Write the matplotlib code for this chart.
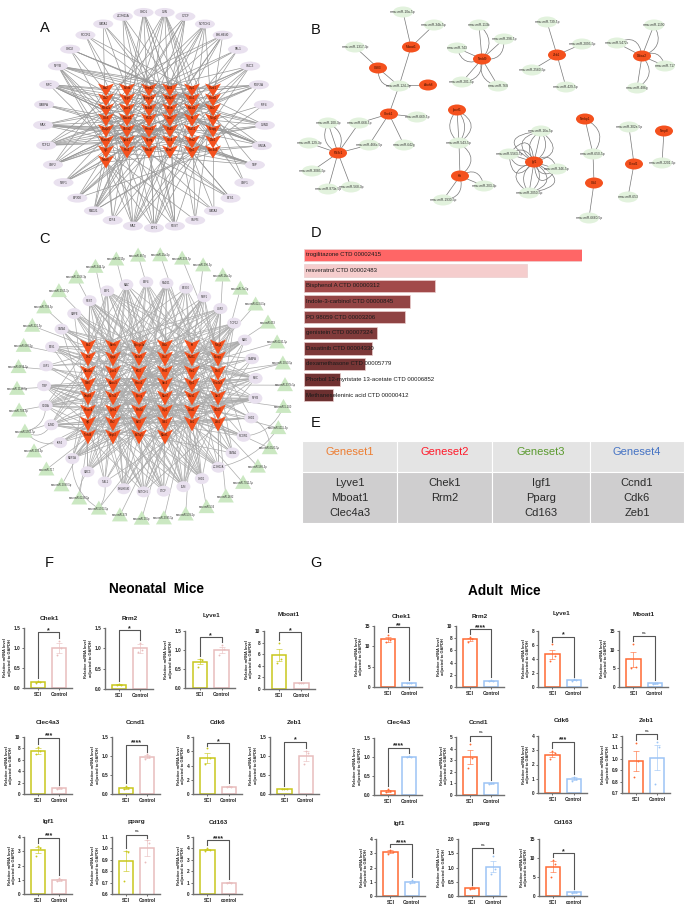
import numpy as np
import matplotlib
matplotlib.use('Agg')
from matplotlib import pyplot as plt
from matplotlib.patches import Ellipse, Rectangle, FancyArrowPatch

plt.rcParams['font.family'] = ['Liberation Sans', 'DejaVu Sans']

W, H = 685, 910

# ---------- network data ----------
TFS = ['JUN', 'CTCF', 'NOTCH1', 'BHLHE40', 'TAL1', 'SMC3', 'MEF2A', 'IRF4', 'JUND', 'SIN3A', 'TBP',
       'USF1', 'ETS1', 'GATA3', 'SMPE', 'REST', 'E2F1', 'MAZ', 'E2F4', 'RAD21', 'EP300', 'NRF1',
       'USF2', 'TCF12', 'MAX', 'GABPA', 'MYC', 'NFYB', 'CHD2', 'RCOR1', 'GATA1', 'ZC3H11A', 'CHD1']

GENES = ['Ets2', 'Dio2', 'Mfsd2a', 'Cdk6', 'Dnajb9', 'Rnase4', 'Igf1', 'Tnfsf8',
         'Ednrb', 'Hpgd', 'Lyve1', 'Mboat1', 'Slc7a2', 'Sphk1', 'Plin2', 'Cmpk2',
         'Ppargc1a', 'Nedd9', 'Kif20', 'Hmox1', 'Pparg', 'Rab3il', 'Edil3', 'Sh3bp5',
         'Ikbkb', 'Gas7', 'Rnd3', 'Sdc4', 'Mcm7', 'Usp1', 'Cdk1', 'Mical1',
         'Kit', 'Rad51', 'Rrm2', 'Rgs1', 'Chek1', 'Ccnd1', 'Ect2',
         'Ndrg2', 'Ncapg', 'Dtx4', 'Clec4a3', 'Cks2', 'Cd163', 'Zeb1']

TF_TARGETS = {
    'JUN': [2, 9, 17, 25, 33, 39, 41, 44, 12, 30],
    'CTCF': [1, 10, 18, 26, 6, 22],
    'NOTCH1': [3, 11, 19, 27, 34, 40, 14],
    'BHLHE40': [0, 8, 16, 24, 20, 29, 37],
    'TAL1': [2, 10, 26, 32],
    'SMC3': [4, 12, 21, 28, 35, 1, 17],
    'MEF2A': [5, 13, 22, 30, 36, 9, 25, 41],
    'IRF4': [39, 41, 43],
    'JUND': [6, 14, 23, 31, 37, 15, 2, 40, 44],
    'SIN3A': [7, 15, 0, 8, 16, 24, 32, 38, 33, 21],
    'TBP': [3, 11, 19, 27, 34, 42, 45, 13, 6, 29],
    'USF1': [45, 38, 31],
    'ETS1': [4, 20, 28, 35, 43, 16],
    'GATA3': [5, 21, 36, 44, 23],
    'SMPE': [6, 22, 37, 45, 31],
    'REST': [1, 9, 17, 25, 7, 15, 23, 38, 44],
    'E2F1': [2, 10, 18, 26, 33, 39, 7, 15, 31],
    'MAZ': [3, 11, 19, 27, 34, 40, 7, 23, 0, 31],
    'E2F4': [4, 12, 20, 28, 7],
    'RAD21': [5, 13, 21, 29, 35, 41, 7, 15, 14, 22],
    'EP300': [6, 14, 22, 30, 36, 42],
    'NRF1': [7, 15, 23, 31, 37, 43, 6],
    'USF2': [0, 8, 16, 24, 32, 38, 44, 12, 30, 37, 43],
    'TCF12': [1, 9, 17, 25, 33, 39, 45, 29, 37, 5, 20],
    'MAX': [2, 10, 18, 26, 34, 40, 4, 12, 44, 28],
    'GABPA': [3, 11, 27],
    'MYC': [0, 8, 16, 24, 32, 19, 27, 35, 41, 5, 42],
    'NFYB': [5, 13, 21, 29, 36, 42, 6, 14, 30, 43, 37, 23],
    'CHD2': [14, 22, 30, 38, 20],
    'RCOR1': [12, 20, 29, 40],
    'GATA1': [8, 24, 41, 6],
    'ZC3H11A': [10, 19, 28, 41, 26],
    'CHD1': [9, 18, 26, 35, 43, 31, 13, 22],
}
# extra links that only panel C shows
C_EXTRA = {
    'JUN': [5, 13, 21, 29, 37], 'CTCF': [4, 12, 28, 36], 'NOTCH1': [7, 15, 23, 31, 45], 'BHLHE40': [3, 11, 34, 42],
    'TAL1': [6, 14, 38], 'SMC3': [0, 8, 24, 41], 'MEF2A': [2, 18, 33], 'IRF4': [20, 32], 'JUND': [1, 9, 25, 35],
    'SIN3A': [4, 12, 28, 44], 'TBP': [5, 22, 37, 43], 'USF1': [8, 17, 40], 'ETS1': [2, 10, 25, 39],
    'GATA3': [1, 17, 33, 41], 'SMPE': [9, 26, 42], 'REST': [3, 19, 35, 42], 'E2F1': [0, 16, 24, 40],
    'MAZ': [6, 14, 30, 44], 'E2F4': [16, 32, 38, 45], 'RAD21': [9, 25, 36, 43], 'EP300': [1, 17, 33, 39],
    'NRF1': [2, 18, 26, 40], 'USF2': [4, 20, 35], 'TCF12': [13, 21, 41], 'MAX': [6, 22, 38], 'GABPA': [16, 31, 44],
    'MYC': [7, 15, 38, 45], 'NFYB': [2, 18, 33], 'CHD2': [0, 8, 26, 40], 'RCOR1': [5, 24, 37], 'GATA1': [1, 18, 32, 44],
    'ZC3H11A': [3, 11, 33, 39], 'CHD1': [0, 16, 24, 38],
}

MIRNAS = ['mmu-miR-6215p', 'mmu-miR-467g', 'mmu-miR-19a-5p', 'mmu-miR-338-5p', 'mmu-miR-298-5p',
          'mmu-miR-16a-5p', 'mmu-miR-7a-5p', 'mmu-miR-6224-5p', 'mmu-miR-653', 'mmu-miR-6231-5p',
          'mmu-miR-2050-5p', 'mmu-miR-337b-5p', 'mmu-miR-5-100', 'mmu-miR-5115-5p', 'mmu-miR-6923-5p',
          'mmu-miR-568-3p', 'mmu-miR-7011-5p', 'mmu-miR-1892', 'mmu-miR-534', 'mmu-miR-539-5p',
          'mmu-miR-3085-5p', 'mmu-miR-205p', 'mmu-miR-378', 'mmu-miR-5003-5p', 'mmu-miR-6238-5p',
          'mmu-miR-2080-5p', 'mmu-miR-717', 'mmu-miR-209-5p', 'mmu-miR-5563-5p', 'mmu-miR-708-5p',
          'mmu-miR-2138-5p', 'mmu-miR-6694-5p', 'mmu-miR-668-5p', 'mmu-miR-321-5p', 'mmu-miR-709-5p',
          'mmu-miR-2965-3p', 'mmu-miR-1306-3p', 'mmu-miR-344-5p']
MIR_TARGETS = [16, 24, 32, 39, 33, 40, 41, 39, 34, 40,
               41, 42, 43, 44, 45, 45, 38, 44, 38, 37,
               36, 31, 30, 30, 7, 7, 7, 6, 5, 4,
               3, 2, 1, 0, 0, 8, 8, 8]
# curved miRNA - TF arcs seen in the lower left of C
MIR_ARCS = [(28, 'SIN3A', 0.4), (28, 'JUND', 0.5), (28, 'IRF4', 0.3), (23, 'MEF2A', -0.3), (24, 'SMC3', -0.2),
            (23, 'TAL1', 0.2), (10, 'MEF2A', 0.1), (13, 'ZC3H11A', -0.2), (14, 'CHD2', 0.3), (12, 'RCOR1', -0.3)]

# panel B: name, kind
B_GENES = ['Mboat1', 'Cd83', 'Atoh8', 'Chek1', 'Pik3r1', 'Nedd9', 'Zeb1', 'Ddias2', 'Ipcef1', 'Kit', 'Igf1',
           'Nmbp1', 'Cd4', 'Ccnd1', 'Nmp8']
B_MIRS = ['mmu-miR-10a-5p', 'mmu-miR-34b-5p', 'mmu-miR-1317-3p', 'mmu-miR-124-3p', 'mmu-miR-669-5p', 'mmu-miR-642g',
          'mmu-miR-466c-5p', 'mmu-miR-668-5p', 'mmu-miR-100-3p', 'mmu-miR-129-3p', 'mmu-miR-3085-5p',
          'mmu-miR-873a-5p', 'mmu-miR-568-3p', 'mmu-miR-113b', 'mmu-miR-298-5p', 'mmu-miR-743', 'mmu-miR-76S',
          'mmu-miR-201-5p', 'mmu-miR-739-5p', 'mmu-miR-2095-5p', 'mmu-miR-2560-5p', 'mmu-miR-429-5p',
          'mmu-miR-1190', 'mmu-miR-5472c', 'mmu-miR-717', 'mmu-miR-486g', 'mmu-miR-543-5p', 'mmu-miR-203-3p',
          'mmu-miR-1930-5p', 'mmu-miR-16a-5p', 'mmu-miR-5563-5p', 'mmu-miR-346-5p', 'mmu-miR-2050-5p',
          'mmu-miR-650-5p', 'mmu-miR-6660-5p', 'mmu-miR-302a-5p', 'mmu-miR-653', 'mmu-miR-2201-5p']
B_EDGES = [('Mboat1', 'mmu-miR-10a-5p', 0), ('Mboat1', 'mmu-miR-34b-5p', 0), ('Mboat1', 'mmu-miR-124-3p', 0),
           ('Cd83', 'mmu-miR-1317-3p', 0), ('Cd83', 'mmu-miR-124-3p', 0), ('Cd83', 'mmu-miR-124-3p', 0.6),
           ('Atoh8', 'mmu-miR-124-3p', 0), ('Chek1', 'mmu-miR-124-3p', 0), ('Chek1', 'mmu-miR-669-5p', 0),
           ('Chek1', 'mmu-miR-642g', 0), ('Chek1', 'mmu-miR-466c-5p', 0), ('Chek1', 'mmu-miR-668-5p', 0),
           ('Pik3r1', 'mmu-miR-668-5p', 0), ('Pik3r1', 'mmu-miR-466c-5p', 0), ('Pik3r1', 'mmu-miR-100-3p', 0),
           ('Pik3r1', 'mmu-miR-100-3p', 0.5), ('Pik3r1', 'mmu-miR-100-3p', -0.5), ('Pik3r1', 'mmu-miR-129-3p', 0),
           ('Pik3r1', 'mmu-miR-3085-5p', 0), ('Pik3r1', 'mmu-miR-873a-5p', 0), ('Pik3r1', 'mmu-miR-568-3p', 0),
           ('Nedd9', 'mmu-miR-113b', 0), ('Nedd9', 'mmu-miR-113b', 0.5), ('Nedd9', 'mmu-miR-298-5p', 0),
           ('Nedd9', 'mmu-miR-298-5p', 0.6), ('Nedd9', 'mmu-miR-743', 0), ('Nedd9', 'mmu-miR-743', -0.6),
           ('Nedd9', 'mmu-miR-76S', 0), ('Nedd9', 'mmu-miR-76S', 0.5), ('Nedd9', 'mmu-miR-201-5p', 0),
           ('Nedd9', 'mmu-miR-201-5p', -0.5), ('Zeb1', 'mmu-miR-739-5p', 0), ('Zeb1', 'mmu-miR-2095-5p', 0),
           ('Zeb1', 'mmu-miR-2560-5p', 0), ('Zeb1', 'mmu-miR-429-5p', 0), ('Ddias2', 'mmu-miR-1190', 0),
           ('Ddias2', 'mmu-miR-1190', 0.6), ('Ddias2', 'mmu-miR-5472c', 0), ('Ddias2', 'mmu-miR-5472c', 0.7),
           ('Ddias2', 'mmu-miR-717', 0), ('Ddias2', 'mmu-miR-717', -0.6), ('Ddias2', 'mmu-miR-486g', 0),
           ('Ddias2', 'mmu-miR-486g', -0.6), ('Ipcef1', 'mmu-miR-543-5p', 0), ('Ipcef1', 'mmu-miR-543-5p', 0.5),
           ('Ipcef1', 'mmu-miR-543-5p', -0.4), ('Ipcef1', 'mmu-miR-543-5p', -0.8), ('Kit', 'mmu-miR-543-5p', 0),
           ('Kit', 'mmu-miR-543-5p', 0.7), ('Kit', 'mmu-miR-203-3p', 0), ('Kit', 'mmu-miR-203-3p', -0.7),
           ('Kit', 'mmu-miR-1930-5p', 0), ('Kit', 'mmu-miR-1930-5p', -0.6),
           ('Igf1', 'mmu-miR-16a-5p', 0), ('Igf1', 'mmu-miR-16a-5p', 0.5), ('Igf1', 'mmu-miR-16a-5p', -0.5),
           ('Igf1', 'mmu-miR-16a-5p', 1.0), ('Igf1', 'mmu-miR-16a-5p', -1.0), ('Igf1', 'mmu-miR-16a-5p', -1.5),
           ('Igf1', 'mmu-miR-5563-5p', 0), ('Igf1', 'mmu-miR-5563-5p', 0.6), ('Igf1', 'mmu-miR-5563-5p', -0.6),
           ('Igf1', 'mmu-miR-5563-5p', 1.2), ('Igf1', 'mmu-miR-5563-5p', -1.2), ('Igf1', 'mmu-miR-346-5p', 0),
           ('Igf1', 'mmu-miR-346-5p', 0.7), ('Igf1', 'mmu-miR-346-5p', -0.7), ('Igf1', 'mmu-miR-346-5p', 1.3),
           ('Igf1', 'mmu-miR-2050-5p', 0), ('Igf1', 'mmu-miR-2050-5p', 0.5), ('Igf1', 'mmu-miR-2050-5p', -0.5),
           ('Igf1', 'mmu-miR-2050-5p', 1.0), ('Igf1', 'mmu-miR-2050-5p', -1.0), ('Igf1', 'mmu-miR-2050-5p', -1.5),
           ('Nmbp1', 'mmu-miR-650-5p', 0), ('Nmbp1', 'mmu-miR-650-5p', -0.6), ('Cd4', 'mmu-miR-650-5p', 0),
           ('Cd4', 'mmu-miR-6660-5p', 0), ('Ccnd1', 'mmu-miR-302a-5p', 0), ('Ccnd1', 'mmu-miR-653', 0),
           ('Nmp8', 'mmu-miR-2201-5p', 0)]
# layout of panel B as Cytoscape left it, in page pixels
B_LAYOUT = {
    'Mboat1': (411, 47), 'Cd83': (378, 68), 'Atoh8': (428, 85), 'Chek1': (389, 114), 'Pik3r1': (338, 153),
    'Nedd9': (482, 59), 'Zeb1': (557, 55), 'Ddias2': (642, 56), 'Ipcef1': (457, 110), 'Kit': (460, 176),
    'Igf1': (534, 162), 'Nmbp1': (585, 119), 'Cd4': (594, 183), 'Ccnd1': (634, 164), 'Nmp8': (664, 131),
    'mmu-miR-10a-5p': (403, 12), 'mmu-miR-34b-5p': (434, 25), 'mmu-miR-1317-3p': (355, 47),
    'mmu-miR-124-3p': (399, 86), 'mmu-miR-669-5p': (417, 117), 'mmu-miR-642g': (404, 145),
    'mmu-miR-466c-5p': (369, 145), 'mmu-miR-668-5p': (359, 123), 'mmu-miR-100-3p': (328, 123),
    'mmu-miR-129-3p': (309, 143), 'mmu-miR-3085-5p': (312, 171), 'mmu-miR-873a-5p': (328, 189),
    'mmu-miR-568-3p': (351, 187), 'mmu-miR-113b': (479, 25), 'mmu-miR-298-5p': (504, 39), 'mmu-miR-743': (457, 48),
    'mmu-miR-76S': (498, 86), 'mmu-miR-201-5p': (462, 82), 'mmu-miR-739-5p': (547, 22),
    'mmu-miR-2095-5p': (582, 44), 'mmu-miR-2560-5p': (532, 70), 'mmu-miR-429-5p': (566, 87),
    'mmu-miR-1190': (654, 25), 'mmu-miR-5472c': (617, 43), 'mmu-miR-717': (665, 66), 'mmu-miR-486g': (637, 88),
    'mmu-miR-543-5p': (459, 143), 'mmu-miR-203-3p': (484, 186), 'mmu-miR-1930-5p': (443, 200),
    'mmu-miR-16a-5p': (541, 131), 'mmu-miR-5563-5p': (509, 154), 'mmu-miR-346-5p': (557, 169),
    'mmu-miR-2050-5p': (529, 193), 'mmu-miR-650-5p': (593, 154), 'mmu-miR-6660-5p': (589, 218),
    'mmu-miR-302a-5p': (629, 127), 'mmu-miR-653': (628, 197), 'mmu-miR-2201-5p': (662, 163),
}

# ---------- panel D / E data ----------
DRUGS = ['trogilitazone CTD 00002415', 'resveratrol CTD 00002483', 'Bisphenol A CTD 00000312',
         'Indole-3-carbinol CTD 00000845', 'PD 98059 CTD 00003206', 'genistein CTD 00007324',
         'Dasatinib CTD 00004330', 'dexamethasone CTD 00005779',
         'Phorbol 12-myristate 13-acetate CTD 00006852', 'Methaneseleninic acid CTD 00000412']
DRUG_SCORE = [278, 223, 131, 106, 101, 73, 68, 61, 36, 29]
DRUG_COLORS = ['#FF6666', '#F5CDCD', '#A24A4A', '#934444', '#8F4343', '#813B3B', '#7C3838', '#763535',
               '#703131', '#6C3030']

GENESETS = ['Geneset1', 'Geneset2', 'Geneset3', 'Geneset4']
GENESET_COLORS = ['#ED7D31', '#FF1A2A', '#5B9A2F', '#4472C4']
GENESET_MEMBERS = [['Lyve1', 'Mboat1', 'Clec4a3'], ['Chek1', 'Rrm2'], ['Igf1', 'Pparg', 'Cd163'],
                   ['Ccnd1', 'Cdk6', 'Zeb1']]

# ---------- qPCR data ----------
GROUPS = ['SCI', 'Control']
F_NAMES = ['Chek1', 'Rrm2', 'Lyve1', 'Mboat1', 'Clec4a3', 'Ccnd1', 'Cdk6', 'Zeb1', 'Igf1', 'pparg', 'Cd163']
F_SCI = [0.15, 0.11, 0.69, 5.9, 7.6, 0.16, 5.1, 0.13, 3.1, 0.89, 3.9]
F_SCI_ERR = [0.01, 0.01, 0.07, 1.05, 0.5, 0.03, 0.7, 0.01, 0.22, 0.09, 0.07]
F_SCI_PTS = [[.13, .15, .17], [.10, .11, .12], [.55, .75, .76], [4.5, 5.2, 8.0], [7.0, 7.6, 8.2], [.13, .15, .21],
             [4.2, 5.0, 6.4], [.12, .13, .14], [2.7, 3.2, 3.4], [.71, .97, .98], [3.8, 3.9, 4.05]]
F_CTRL = [1.0, 1.0, 1.0, 1.0, 1.0, 0.98, 1.0, 1.0, 1.0, 1.0, 1.0]
F_CTRL_ERR = [0.13, 0.11, 0.07, 0.05, 0.1, 0.04, 0.08, 0.12, 0.07, 0.07, 0.03]
F_CTRL_PTS = [[.82, 1.0, 1.18], [.92, .95, 1.12], [.87, 1.02, 1.13], [.95, 1.0, 1.08], [.9, 1.0, 1.15],
              [.93, .98, 1.04], [.95, 1.0, 1.1], [.8, 1.07, 1.13], [.92, 1.0, 1.12], [.88, 1.05, 1.07],
              [.97, 1.0, 1.04]]
F_YMIN = [0, 0, 0, 0, 0, 0, 0, 0, 0, 0.6, 0]
F_YMAX = [1.5, 1.5, 1.5, 10, 10, 1.5, 8, 1.5, 4, 1.1, 5]
F_YSTEP = [0.5, 0.5, 0.5, 2, 2, 0.5, 2, 0.5, 1, 0.1, 1]
F_BRACKET = [1.39, 1.44, 1.33, 9.8, 9.9, 1.3, 7.1, 1.37, 3.95, 1.12, 4.7]
F_SIG = ['*', '*', '*', '*', '***', '****', '*', '*', '***', 'ns', '****']

G_NAMES = ['Chek1', 'Rrm2', 'Lyve1', 'Mboat1', 'Clec4a3', 'Ccnd1', 'Cdk6', 'Zeb1', 'Igf1', 'pparg', 'Cd163']
G_SCI = [11.7, 7.8, 4.65, 7.4, 0.11, 3.3, 2.7, 0.98, 3.1, 0.27, 7.7]
G_SCI_ERR = [0.7, 0.25, 0.7, 2.1, 0.02, 0.6, 0.15, 0.09, 0.1, 0.02, 1.5]
G_SCI_PTS = [[11.0, 11.6, 12.8], [7.4, 7.8, 8.2], [3.7, 4.4, 6.1], [5.1, 5.4, 11.6], [.08, .11, .15], [2.3, 3.2, 4.4],
             [2.4, 2.8, 2.95], [.84, .98, 1.14], [2.95, 3.1, 3.25], [.25, .27, .30], [5.0, 8.5, 9.5]]
G_CTRL = [1.0, 1.0, 1.0, 1.0, 1.0, 1.0, 1.0, 1.01, 1.0, 1.03, 1.0]
G_CTRL_ERR = [0.05, 0.05, 0.07, 0.1, 0.01, 0.03, 0.1, 0.11, 0.08, 0.2, 0.1]
G_CTRL_PTS = [[.95, 1.0, 1.05], [.95, 1.0, 1.1], [.9, 1.05, 1.1], [.85, 1.0, 1.15], [.99, 1.0, 1.02], [.97, 1.0, 1.05],
              [.85, 1.0, 1.15], [.78, 1.1, 1.15], [.92, 1.0, 1.15], [.78, .95, 1.42], [.9, 1.0, 1.2]]
G_YMIN = [0, 0, 0, 0, 0, 0, 0, 0.7, 0, 0, 0]
G_YMAX = [15, 10, 8, 15, 1.5, 5, 4, 1.2, 4, 2, 15]
G_YSTEP = [5, 2, 2, 5, 0.5, 1, 1, 0.1, 1, 0.5, 5]
G_BRACKET = [14.7, 9.5, 7.15, 13.6, 1.24, 5.1, 3.6, 1.215, 3.62, 1.68, 11.3]
G_SIG = ['**', '****', '*', 'ns', '****', 'ns', '***', 'ns', '****', 'ns', '*']

# left, top, right, base, title x, title y in page pixels
F_RECTS = [(24, 628, 72, 688, 49, 618), (105, 628, 153, 689, 130, 618), (185, 631, 235, 688, 212, 615),
           (264, 631, 315, 689, 289, 615), (24, 737, 72, 794, 48, 722), (112, 737, 160, 794, 136, 722),
           (193, 737, 242, 794, 218, 722), (270, 737, 319, 794, 294, 722), (24, 837, 72, 894, 48, 822),
           (112, 837, 160, 894, 136, 822), (193, 837, 242, 894, 218, 822)]
G_RECTS = [(374, 626, 422, 687, 401, 616), (456, 626, 504, 687, 480, 616), (538, 631, 587, 687, 562, 614),
           (619, 631, 668, 687, 644, 614), (374, 738, 422, 795, 399, 722), (456, 737, 504, 795, 479, 722),
           (538, 736, 587, 793, 562, 720), (622, 736, 670, 793, 646, 720), (376, 839, 425, 896, 399, 823),
           (458, 839, 506, 896, 481, 823), (539, 839, 587, 896, 563, 823)]

ORANGE = '#F4511E'
LILAC = '#E9E1EF'
PALE_GREEN = '#E2F2DD'
TRI_GREEN = '#CBE8C2'
VEE = [(-1, 1), (0, 0.55), (1, 1), (0, -1), (-1, 1)]

fig = plt.figure(figsize=(W / 100, H / 100), dpi=100)
page = fig.add_axes([0, 0, 1, 1])
page.set_xlim(0, W)
page.set_ylim(H, 0)
page.axis('off')


def px_axes(left, top, right, base):
    a = fig.add_axes([left / W, 1 - base / H, (right - left) / W, (base - top) / H])
    a.patch.set_alpha(0)
    return a


def ring(n, cx, cy, rx, ry, start_deg):
    ang = np.radians(start_deg + 360 * np.arange(n) / n)
    return cx + rx * np.sin(ang), cy - ry * np.cos(ang)


def grid_xy(col_x, row_y, counts):
    xs, ys = [], []
    for x, c in zip(col_x, counts):
        xs += [x] * c
        ys += list(row_y[:c])
    return np.array(xs), np.array(ys)


def vee_nodes(xs, ys, half_w, half_h, labels, fs):
    for x, y, lab in zip(xs, ys, labels):
        page.fill([x + v[0] * half_w for v in VEE], [y - v[1] * half_h for v in VEE], color=ORANGE, lw=0, zorder=4)
        page.text(x, y - half_h * 0.25, lab, fontsize=fs, ha='center', va='center', color='#401000', zorder=5)


# ---------- A ----------
tx, ty = ring(len(TFS), 154, 120, 111, 108, 5.5)
gx, gy = grid_xy([106, 127, 149, 170, 192, 213], [90, 100, 110, 120, 131, 142, 152, 162], [8, 7, 7, 7, 7, 7])
for i, tf in enumerate(TFS):
    for g in TF_TARGETS[tf]:
        if g < len(gx):
            page.plot([tx[i], gx[g]], [ty[i], gy[g]], color='#989898', lw=0.5, zorder=2)
vee_nodes(gx, gy, 8, 6.5, GENES, 2.0)
for x, y, lab in zip(tx, ty, TFS):
    page.add_patch(Ellipse((x, y), 20, 9, color=LILAC, lw=0, zorder=4))
    page.text(x, y, lab, fontsize=2.2, ha='center', va='center', color='#333333', zorder=5)

# ---------- B ----------
for a, b, rad in B_EDGES:
    page.add_patch(FancyArrowPatch(B_LAYOUT[a], B_LAYOUT[b], arrowstyle='-', shrinkA=0, shrinkB=0,
                                   connectionstyle=f'arc3,rad={rad}', color='#777777', lw=0.5, zorder=2))
for name in B_MIRS:
    page.add_patch(Ellipse(B_LAYOUT[name], 20, 11, color=PALE_GREEN, lw=0, zorder=4))
    page.text(*B_LAYOUT[name], name, fontsize=2.3, ha='center', va='center', color='#333333', zorder=5)
for name in B_GENES:
    page.add_patch(Ellipse(B_LAYOUT[name], 18, 11, color=ORANGE, lw=0, zorder=4))
    page.text(*B_LAYOUT[name], name, fontsize=2.3, ha='center', va='center', color='#401000', zorder=5)

# ---------- C ----------
order_c = TFS[18:] + TFS[:18]
cx_t, cy_t = ring(len(order_c), 150, 387, 106, 105, -2)
tf_c = {n: (x, y) for n, x, y in zip(order_c, cx_t, cy_t)}
ccx, ccy = grid_xy([88, 113, 139, 165, 192, 218], [347, 359, 373, 385, 398, 412, 424, 437], [8, 8, 8, 8, 7, 7])
mx, my = ring(len(MIRNAS), 151, 387, 134, 132, -15)
for tf in order_c:
    for g in TF_TARGETS[tf] + C_EXTRA[tf]:
        page.plot([tf_c[tf][0], ccx[g]], [tf_c[tf][1], ccy[g]], color='#ABABAB', lw=0.5, zorder=2)
for i, g in enumerate(MIR_TARGETS):
    page.plot([mx[i], ccx[g]], [my[i], ccy[g]], color='#ABABAB', lw=0.5, zorder=2)
for i, tf, rad in MIR_ARCS:
    page.add_patch(FancyArrowPatch((mx[i], my[i]), tf_c[tf], arrowstyle='-', shrinkA=0, shrinkB=0,
                                   connectionstyle=f'arc3,rad={rad}', color='#ABABAB', lw=0.5, zorder=2))
vee_nodes(ccx, ccy, 8, 7.5, GENES, 1.9)
for tf in order_c:
    page.add_patch(Ellipse(tf_c[tf], 14, 11, color=LILAC, lw=0, zorder=4))
    page.text(*tf_c[tf], tf, fontsize=1.9, ha='center', va='center', color='#333333', zorder=5)
for x, y, lab in zip(mx, my, MIRNAS):
    page.fill([x - 8, x + 8, x], [y + 6, y + 6, y - 8], color=TRI_GREEN, lw=0, zorder=4)
    page.text(x, y, lab, fontsize=1.9, ha='center', va='center', color='#333333', zorder=5)

# ---------- D ----------
ax = px_axes(304, 247, 582, 403)
ax.barh(range(len(DRUGS)), DRUG_SCORE, height=0.8, color=DRUG_COLORS, edgecolor='#EBCFCF', lw=0.5)
ax.set_xlim(0, max(DRUG_SCORE))
ax.set_ylim(9.5, -0.5)
ax.axis('off')
for i, d in enumerate(DRUGS):
    ax.text(1.5, i, d, fontsize=4.3, va='center', ha='left', color='#1a1a1a', clip_on=False)

# ---------- E ----------
col_edges = [302, 397, 492, 590, 684]
for i in range(4):
    page.add_patch(Rectangle((col_edges[i], 441), col_edges[i + 1] - col_edges[i], 31, fc='#E4E4E4', ec='white', lw=0.8))
    page.add_patch(Rectangle((col_edges[i], 472), col_edges[i + 1] - col_edges[i], 51, fc='#CFCECF', ec='white', lw=0.8))
    xc = (col_edges[i] + col_edges[i + 1]) / 2
    page.text(xc, 452, GENESETS[i], color=GENESET_COLORS[i], fontsize=8, ha='center', va='center')
    for j, m in enumerate(GENESET_MEMBERS[i]):
        page.text(xc, 483 + 15 * j, m, color='#2b2b2b', fontsize=8, ha='center', va='center')


# ---------- F / G ----------
def bar_panel(rect, name, sci, sci_err, sci_pts, ctrl, ctrl_err, ctrl_pts, ymin, ymax, ystep, bracket, sig,
              c_sci, c_ctrl, labels):
    ax = px_axes(*rect[:4])
    for i, (m, e, pts, c) in enumerate([(sci, sci_err, sci_pts, c_sci), (ctrl, ctrl_err, ctrl_pts, c_ctrl)]):
        ax.bar(i, m, width=0.66, facecolor='none', edgecolor=c, lw=1.1, zorder=2)
        ax.errorbar(i, m, yerr=e, color=c, lw=0.6, capsize=2.4, capthick=0.6, alpha=0.7, zorder=3)
        ax.scatter(i + np.array([-0.1, 0.1, 0.0]), pts, s=1.8, color=c, lw=0, zorder=4, clip_on=False)
    gap = (ymax - ymin) * 0.05
    left_end = max(sci + sci_err, max(sci_pts)) + gap
    right_end = max(ctrl + ctrl_err, max(ctrl_pts)) + gap
    ax.plot([0, 0, 1, 1], [left_end, bracket, bracket, right_end], color='#555555', lw=0.8, clip_on=False, zorder=5)
    if sig == 'ns':
        ax.text(0.5, bracket + gap * 0.5, sig, fontsize=3.2, ha='center', va='bottom', color='#222222', clip_on=False)
    else:
        ax.text(0.5, bracket - gap * 0.6, sig, fontsize=5, ha='center', va='bottom', color='#222222',
                fontweight='bold', clip_on=False)
    ax.set_xlim(-0.68, 1.62)
    ax.set_ylim(ymin, ymax)
    ax.set_yticks(np.arange(ymin, ymax + ystep / 2, ystep))
    if ystep < 1:
        ax.set_yticklabels([f'{v:.1f}' for v in np.arange(ymin, ymax + ystep / 2, ystep)])
    ax.set_xticks([0, 1])
    ax.set_xticklabels(labels)
    ax.tick_params(axis='both', length=1.5, width=0.5, pad=1.2, labelsize=3.4, colors='#333333', labelcolor='#222222')
    for t in ax.get_xticklabels() + ax.get_yticklabels():
        t.set_fontweight('bold')
    for s in ['top', 'right']:
        ax.spines[s].set_visible(False)
    for s in ['left', 'bottom']:
        ax.spines[s].set_linewidth(1.0)
        ax.spines[s].set_color('#707070')
    ax.set_ylabel('Relative mRNA level\nadjusted to GAPDH', fontsize=2.9, fontweight='bold', labelpad=1.2,
                  color='#222222', linespacing=1.1)
    page.text(rect[4], rect[5], name, fontsize=4.6, fontweight='bold', ha='center', va='center', color='#222222')


for i, rect in enumerate(F_RECTS):
    labels = ['SCI', 'control'] if F_NAMES[i] == 'Cd163' else GROUPS
    bar_panel(rect, F_NAMES[i], F_SCI[i], F_SCI_ERR[i], F_SCI_PTS[i], F_CTRL[i], F_CTRL_ERR[i], F_CTRL_PTS[i],
              F_YMIN[i], F_YMAX[i], F_YSTEP[i], F_BRACKET[i], F_SIG[i], '#C9C81C', '#E8BDBD', labels)
for i, rect in enumerate(G_RECTS):
    labels = ['SCI', 'control'] if G_NAMES[i] == 'Cd163' else GROUPS
    bar_panel(rect, G_NAMES[i], G_SCI[i], G_SCI_ERR[i], G_SCI_PTS[i], G_CTRL[i], G_CTRL_ERR[i], G_CTRL_PTS[i],
              G_YMIN[i], G_YMAX[i], G_YSTEP[i], G_BRACKET[i], G_SIG[i], '#FF6A33', '#9CC4F5', labels)

page.text(157, 589, 'Neonatal  Mice', fontsize=9.8, fontweight='bold', ha='center', va='center', color='black')
page.text(504, 591, 'Adult  Mice', fontsize=9.8, fontweight='bold', ha='center', va='center', color='black')

# panel letters
for lab, x, y in [('A', 45, 28), ('B', 316, 30), ('C', 45, 239), ('D', 316, 233), ('E', 316, 423), ('F', 49, 563),
                  ('G', 316, 563)]:
    page.text(x, y, lab, fontsize=10.5, ha='center', va='center', color='#111111')

fig.savefig('out.png', dpi=100)
